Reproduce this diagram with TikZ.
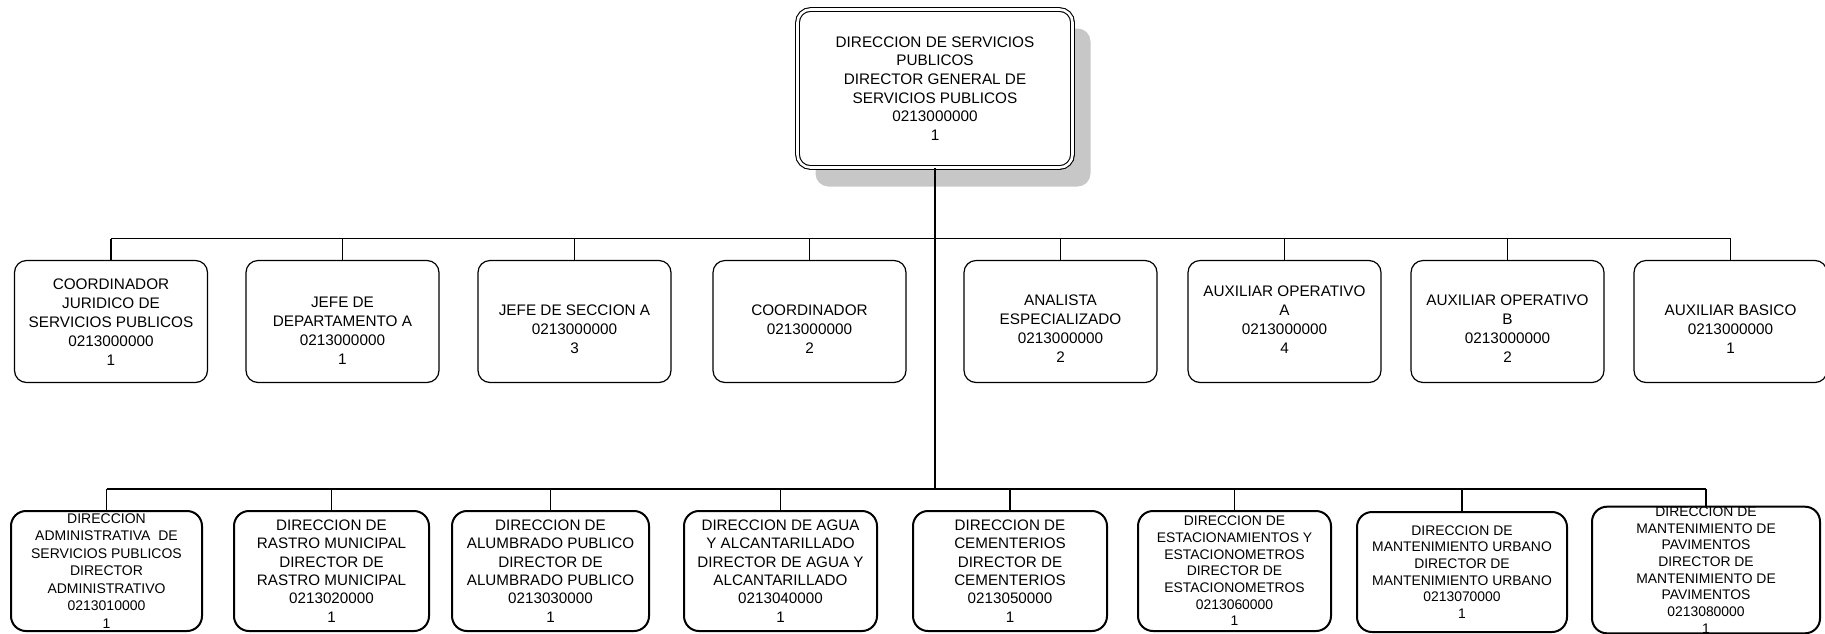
\documentclass[tikz,border=0pt]{standalone}
\usepackage{fontspec}
\setmainfont{Liberation Sans}
\usetikzlibrary{shadows}

\tikzset{
  headbox/.style={draw, double, double distance=2.6pt, line width=1.1pt,
    rounded corners=13pt, fill=white, minimum width=275pt, minimum height=158pt,
    inner sep=0pt, align=center, font=\fontsize{15.3}{18.7}\selectfont,
    drop shadow={shadow xshift=18pt, shadow yshift=-19pt, fill=black!22, opacity=1}},
  staffbox/.style={draw, line width=1.2pt, rounded corners=12pt,
    minimum width=193pt, minimum height=122pt, inner sep=0pt},
  stafftext/.style={align=center, inner sep=0pt, font=\fontsize{15.3}{19}\selectfont},
  unitbox/.style={draw, line width=2pt, rounded corners=15pt, minimum height=120pt,
    inner sep=0pt, align=center, font=\fontsize{15.2}{18.3}\selectfont},
  smallunit/.style={font=\fontsize{13.9}{16.7}\selectfont},
  link/.style={line width=1.2pt},
  trunk/.style={line width=2pt}
}

\begin{document}
\begin{tikzpicture}[x=1pt,y=-1pt]
   \useasboundingbox (0,0) rectangle (1825,633);

   % head
   \node[headbox] (dir) at (935,88.5)
   {DIRECCION DE SERVICIOS\\PUBLICOS\\DIRECTOR GENERAL DE\\SERVICIOS PUBLICOS\\0213000000\\1};

   % staff row
   \node[staffbox] (m1) at (111,321.5) {};
   \node[staffbox] (m2) at (342.5,321.5) {};
   \node[staffbox] (m3) at (574.5,321.5) {};
   \node[staffbox] (m4) at (809.5,321.5) {};
   \node[staffbox] (m5) at (1060.5,321.5) {};
   \node[staffbox] (m6) at (1284.5,321.5) {};
   \node[staffbox] (m7) at (1507.5,321.5) {};
   \node[staffbox] (m8) at (1730.5,321.5) {};

   \node[stafftext] (m1t) at ([yshift=-1pt]m1.center)
   {COORDINADOR\\JURIDICO DE\\SERVICIOS PUBLICOS\\0213000000\\1};
   \node[stafftext] (m2t) at ([yshift=-9pt]m2.center)
   {JEFE DE\\DEPARTAMENTO A\\0213000000\\1};
   \node[stafftext] (m3t) at ([yshift=-8pt]m3.center)
   {JEFE DE SECCION A\\0213000000\\3};
   \node[stafftext] (m4t) at ([yshift=-8pt]m4.center)
   {COORDINADOR\\0213000000\\2};
   \node[stafftext] (m5t) at ([yshift=-7pt]m5.center)
   {ANALISTA\\ESPECIALIZADO\\0213000000\\2};
   \node[stafftext] (m6t) at ([yshift=2pt]m6.center)
   {AUXILIAR OPERATIVO\\A\\0213000000\\4};
   \node[stafftext] (m7t) at ([yshift=-7pt]m7.center)
   {AUXILIAR OPERATIVO\\B\\0213000000\\2};
   \node[stafftext] (m8t) at ([yshift=-8pt]m8.center)
   {AUXILIAR BASICO\\0213000000\\1};

   % units row
   \node[unitbox, minimum width=191pt, font=\fontsize{14}{17.5}\selectfont] (u1) at (106.5,571)
   {DIRECCION\\ADMINISTRATIVA\ \ DE\\SERVICIOS PUBLICOS\\DIRECTOR\\ADMINISTRATIVO\\0213010000\\1};
   \node[unitbox, minimum width=195pt] (u2) at (331.5,571)
   {DIRECCION DE\\RASTRO MUNICIPAL\\DIRECTOR DE\\RASTRO MUNICIPAL\\0213020000\\1};
   \node[unitbox, minimum width=197pt] (u3) at (550.5,571)
   {DIRECCION DE\\ALUMBRADO PUBLICO\\DIRECTOR DE\\ALUMBRADO PUBLICO\\0213030000\\1};
   \node[unitbox, minimum width=193pt] (u4) at (780.5,571)
   {DIRECCION DE AGUA\\Y ALCANTARILLADO\\DIRECTOR DE AGUA Y\\ALCANTARILLADO\\0213040000\\1};
   \node[unitbox, minimum width=194pt] (u5) at (1010,571)
   {DIRECCION DE\\CEMENTERIOS\\DIRECTOR DE\\CEMENTERIOS\\0213050000\\1};
   \node[unitbox, smallunit, minimum width=193pt] (u6) at (1234.5,571)
   {DIRECCION DE\\ESTACIONAMIENTOS Y\\ESTACIONOMETROS\\DIRECTOR DE\\ESTACIONOMETROS\\0213060000\\1};
   \node[unitbox, smallunit, minimum width=210pt] (u7) at (1462,572)
   {DIRECCION DE\\MANTENIMIENTO URBANO\\DIRECTOR DE\\MANTENIMIENTO URBANO\\0213070000\\1};
   \node[unitbox, smallunit, minimum width=228pt, minimum height=124pt] (u8) at (1706,570)
   {DIRECCION DE\\MANTENIMIENTO DE\\PAVIMENTOS\\DIRECTOR DE\\MANTENIMIENTO DE\\PAVIMENTOS\\0213080000\\1};

   % connectors
   \coordinate (mbus) at (935,238.5);
   \coordinate (ubus) at (935,489);
   \draw[trunk] (dir.south) -- (ubus);

   \draw[link] (mbus -| m1.north) -- (mbus -| m8.north);
   \draw[link] (mbus -| m1.north) -- (m1.north);
   \draw[link] (mbus -| m2.north) -- (m2.north);
   \draw[link] (mbus -| m3.north) -- (m3.north);
   \draw[link] (mbus -| m4.north) -- (m4.north);
   \draw[link] (mbus -| m5.north) -- (m5.north);
   \draw[link] (mbus -| m6.north) -- (m6.north);
   \draw[link] (mbus -| m7.north) -- (m7.north);
   \draw[link] (mbus -| m8.north) -- (m8.north);

   \draw[link] (ubus -| u1.north) -- (ubus -| u8.north);
   \draw[link] (ubus -| u1.north) -- (u1.north);
   \draw[link] (ubus -| u2.north) -- (u2.north);
   \draw[link] (ubus -| u3.north) -- (u3.north);
   \draw[link] (ubus -| u4.north) -- (u4.north);
   \draw[link] (ubus -| u5.north) -- (u5.north);
   \draw[link] (ubus -| u6.north) -- (u6.north);
   \draw[link] (ubus -| u7.north) -- (u7.north);
   \draw[link] (ubus -| u8.north) -- (u8.north);
\end{tikzpicture}
\end{document}
